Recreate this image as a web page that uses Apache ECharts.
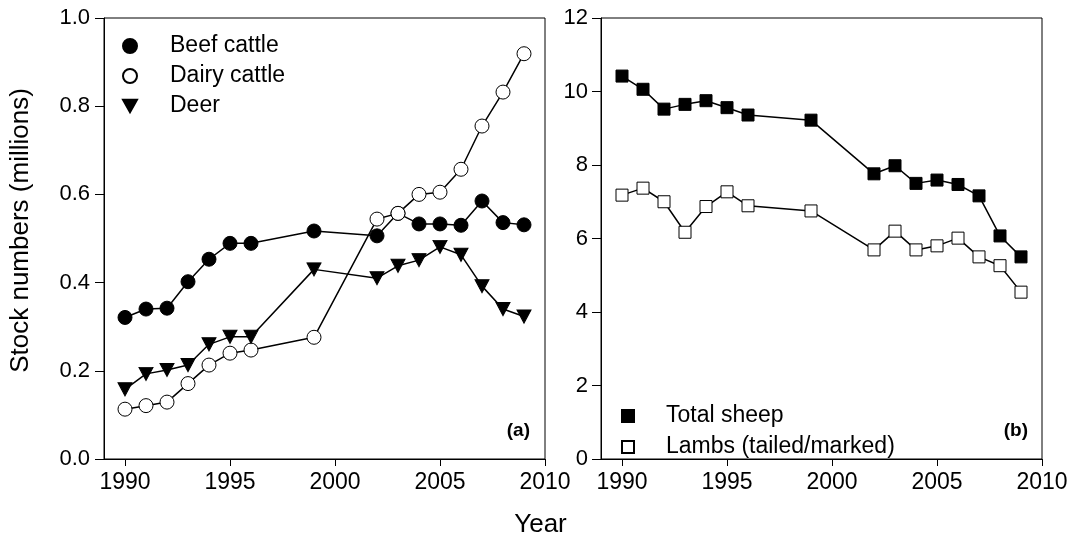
<!DOCTYPE html>
<html style="height:100%;">
<head>
    <meta charset="utf-8">
    <script src="https://cdn.jsdelivr.net/npm/echarts@6/dist/echarts.min.js"></script>
</head>
<body style="height:100%;margin:0;">
    <div id="main" style="width:1081px;height:545px;"></div>
<script>
    // data
    var years = [1990, 1991, 1992, 1993, 1994, 1995, 1996, 1999, 2002, 2003, 2004, 2005, 2006, 2007, 2008, 2009];
    var beef = [0.321, 0.340, 0.342, 0.402, 0.453, 0.489, 0.489, 0.517, 0.506, 0.557, 0.533, 0.533, 0.530, 0.585, 0.536, 0.531];
    var dairy = [0.113, 0.121, 0.129, 0.171, 0.213, 0.240, 0.247, 0.276, 0.544, 0.557, 0.600, 0.605, 0.657, 0.755, 0.832, 0.919];
    var deer = [0.158, 0.193, 0.202, 0.213, 0.260, 0.277, 0.277, 0.430, 0.410, 0.438, 0.451, 0.481, 0.463, 0.392, 0.340, 0.323];
    var sheep = [10.42, 10.06, 9.52, 9.65, 9.75, 9.56, 9.36, 9.22, 7.76, 7.98, 7.50, 7.59, 7.47, 7.16, 6.07, 5.50];
    var lambs = [7.18, 7.37, 7.00, 6.17, 6.87, 7.27, 6.89, 6.75, 5.69, 6.20, 5.69, 5.80, 6.01, 5.50, 5.26, 4.54];
    var yearTicks = [1990, 1995, 2000, 2005, 2010];

    var FONT = 'Liberation Sans, Arial, sans-serif';
    var triDown = 'path://M0,0L10,0L5,9Z';

    function pairs(ys) {
        return years.map(function (y, i) { return [y, ys[i]]; });
    }

    function xAxisFor(idx) {
        return {
            type: 'value', gridIndex: idx, min: 1989, max: 2010,
            splitLine: { show: false },
            axisLine: { show: true, lineStyle: { color: '#000', width: 1 } },
            axisTick: { show: true, inside: false, customValues: yearTicks, length: 7, lineStyle: { color: '#000', width: 1 } },
            axisLabel: { show: true, customValues: yearTicks, color: '#000', fontSize: 23, fontFamily: FONT, margin: 12,
                formatter: function (v) { return String(v); } }
        };
    }

    function yAxisStyle() {
        return {
            splitLine: { show: false },
            axisLine: { show: true, lineStyle: { color: '#000', width: 1 } },
            axisTick: { show: true, inside: false, length: 9, lineStyle: { color: '#000', width: 1 } }
        };
    }

    function line(name, idx, data, symbol, size, fill) {
        return {
            name: name, type: 'line', xAxisIndex: idx, yAxisIndex: idx,
            data: pairs(data), symbol: symbol, symbolSize: size,
            showAllSymbol: true, animation: false,
            lineStyle: { color: '#000', width: 1.5 },
            itemStyle: { color: fill, borderColor: '#000', borderWidth: 1, opacity: 1 }
        };
    }

    var y0 = yAxisStyle();
    y0.type = 'value'; y0.gridIndex = 0; y0.min = 0; y0.max = 1; y0.interval = 0.2;
    y0.name = 'Stock numbers (millions)'; y0.nameLocation = 'middle'; y0.nameGap = 70;
    y0.nameTextStyle = { fontSize: 26, color: '#000', fontFamily: FONT, padding: [0, 0, 0, 16] };
    y0.axisLabel = { color: '#000', fontSize: 22, fontFamily: FONT, margin: 14,
        formatter: function (v) { return v.toFixed(1); } };

    var y1 = yAxisStyle();
    y1.type = 'value'; y1.gridIndex = 1; y1.min = 0; y1.max = 12; y1.interval = 2;
    y1.axisLabel = { color: '#000', fontSize: 22, fontFamily: FONT, margin: 13 };

    var chart = echarts.init(document.getElementById('main'));
    chart.setOption({
        backgroundColor: '#FFFFFF',
        textStyle: { fontFamily: FONT },
        title: [
            { text: '(a)', right: 546, top: 416, textStyle: { fontSize: 19, fontWeight: 'bold', color: '#000', fontFamily: FONT } },
            { text: '(b)', right: 48, top: 416, textStyle: { fontSize: 19, fontWeight: 'bold', color: '#000', fontFamily: FONT } },
            { text: 'Year', left: 'center', top: 507, textStyle: { fontSize: 26, fontWeight: 'normal', color: '#000', fontFamily: FONT } }
        ],
        grid: [
            { left: 104, top: 18, width: 441, height: 441, show: true, borderColor: '#000', borderWidth: 1, outerBoundsMode: 'none' },
            { left: 601, top: 18, width: 441, height: 441, show: true, borderColor: '#000', borderWidth: 1, outerBoundsMode: 'none' }
        ],
        legend: [
            {
                orient: 'vertical', left: 117, top: 29, itemGap: 6, itemWidth: 14, itemHeight: 14,
                textStyle: { fontSize: 23, color: '#000', padding: [0, 0, 0, 28], lineHeight: 24 },
                selectedMode: false,
                data: [
                    { name: 'Beef cattle', icon: 'circle' },
                    { name: 'Dairy cattle', icon: 'circle' },
                    { name: 'Deer', icon: triDown }
                ]
            },
            {
                orient: 'vertical', left: 616, top: 399, itemGap: 7, itemWidth: 12, itemHeight: 12,
                textStyle: { fontSize: 23, color: '#000', padding: [0, 0, 0, 27], lineHeight: 24 },
                selectedMode: false,
                data: [
                    { name: 'Total sheep', icon: 'rect' },
                    { name: 'Lambs (tailed/marked)', icon: 'rect' }
                ]
            }
        ],
        xAxis: [xAxisFor(0), xAxisFor(1)],
        yAxis: [y0, y1],
        series: [
            line('Beef cattle', 0, beef, 'circle', 14, '#000'),
            line('Dairy cattle', 0, dairy, 'circle', 14, '#fff'),
            line('Deer', 0, deer, triDown, [14, 13], '#000'),
            line('Total sheep', 1, sheep, 'rect', 12, '#000'),
            line('Lambs (tailed/marked)', 1, lambs, 'rect', 12, '#fff')
        ]
    });
</script>
</body>
</html>
